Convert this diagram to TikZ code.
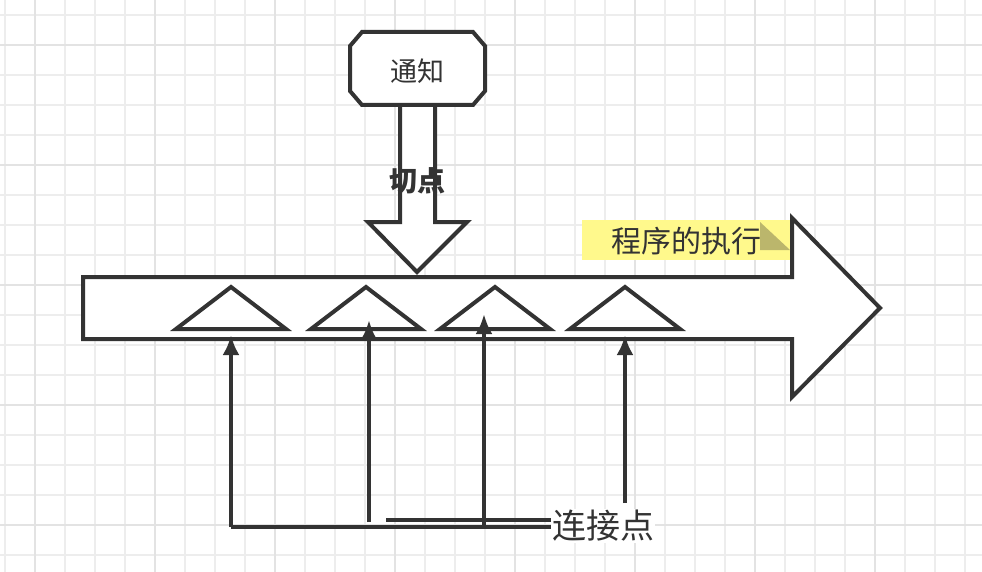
\documentclass[tikz,border=0pt]{standalone}
\usepackage{fontspec}
\usetikzlibrary{arrows.meta}
\newfontfamily\cjk{Noto Sans CJK SC}
\begin{document}
\begin{tikzpicture}[x=1pt,y=-1pt,
  shp/.style={draw=black!80,line width=4pt,fill=white,line join=miter},
  con/.style={draw=black!80,line width=4pt,-{Latex[length=20pt,width=17pt]}},
  lbl/.style={font=\cjk,text=black!80,inner sep=0pt}]
\useasboundingbox (0,0) rectangle (982,572);
\fill[white] (0,0) rectangle (982,572);
\foreach \x in {5,35,...,980} \draw[black!7,line width=2pt] (\x,0) -- (\x,572);
\foreach \y in {15,45,...,570} \draw[black!7,line width=2pt] (0,\y) -- (982,\y);
\foreach \x in {35,155,...,980} \draw[black!11,line width=2.5pt] (\x,0) -- (\x,572);
\foreach \y in {45,165,...,570} \draw[black!11,line width=2.5pt] (0,\y) -- (982,\y);
% big arrow
\draw[shp] (83,277) -- (792,277) -- (792,218) -- (880,308) -- (792,397) -- (792,339) -- (83,339) -- cycle;
% down arrow
\draw[shp] (400,104) -- (400,222) -- (368,222) -- (417,272) -- (467,222) -- (435,222) -- (435,104);
% octagon
\draw[shp] (362,32) -- (473,32) -- (485,46) -- (485,91) -- (473,105) -- (362,105) -- (350,91) -- (350,46) -- cycle;
\node[lbl,font=\cjk\fontsize{27}{27}\selectfont] (tz) at (417,71) {通知};
\node[lbl,font=\cjk\bfseries\fontsize{28}{28}\selectfont] (qd) at (417,181) {切点};
% triangles
\foreach \a/\n in {231/t1,366/t2,495/t3,625/t4}{
  \draw[shp] (\a-55,329) -- (\a,287) -- (\a+55,329) -- cycle;
  \coordinate (\n) at (\a,287);
}
% note
\fill[yellow!45] (582,220) rectangle (790,260);
\fill[olive!60!yellow!70!black!60] (760,222) -- (760,250) -- (790,250) -- cycle;
\node[lbl,font=\cjk\fontsize{30}{30}\selectfont] (zx) at (686,241) {程序的执行};
% connectors
\node[lbl,font=\cjk\fontsize{34}{34}\selectfont,fill=white,inner sep=1pt] (ljd) at (603,526) {连接点};
\coordinate (b1) at (231,527);
\coordinate (b2) at (369,522);
\coordinate (b3) at (484,527);
\coordinate (b4) at (625,503);
\draw[black!80,line width=4pt] (b1) -- (ljd.west |- b1);
\draw[black!80,line width=4pt] (386,520) -- (ljd.west |- 0,520);
\draw[con] (b1) -- (231,335);
\draw[con] (b2) -- (369,320);
\draw[con] (b3) -- (484,314);
\draw[con] (b4) -- (625,335);
\end{tikzpicture}
\end{document}
